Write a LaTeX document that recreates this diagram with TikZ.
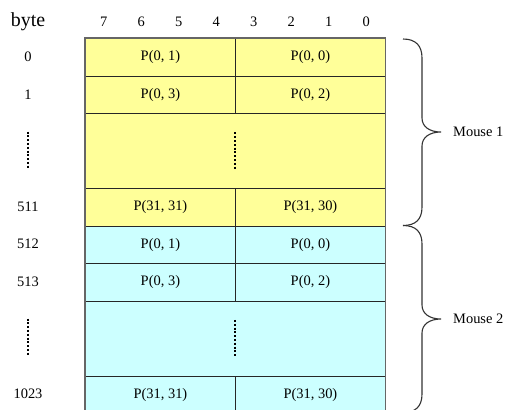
\documentclass[tikz,border=0pt]{standalone}
\usepackage{fontspec}
\setmainfont{Liberation Serif}
\definecolor{yellowfill}{RGB}{255,255,153}
\definecolor{cyanfill}{RGB}{204,255,255}
\begin{document}
\begin{tikzpicture}[x=1bp,y=-1bp,
  cell/.style={draw=black!85, line width=0.8bp, minimum width=150bp, minimum height=37.5bp,
    inner sep=0pt, anchor=north west, font=\fontsize{14.5}{16}\selectfont},
  wide/.style={cell, minimum width=300bp, minimum height=75bp},
  ylw/.style={fill=yellowfill},
  cyn/.style={fill=cyanfill},
  lbl/.style={font=\fontsize{14.5}{16}\selectfont, inner sep=0pt},
  vdots/.style={line width=2bp, dash pattern=on 2bp off 1.8bp},
  border/.style={draw=black!60, line width=1.3bp},
  brace/.style={draw=black!80, line width=1.1bp}
]
\useasboundingbox (0,0) rectangle (509,409);
\clip (0,0) rectangle (509,409);
% header
\node[font=\fontsize{20}{22}\selectfont, inner sep=0pt, anchor=base] (byte) at (28,26.5) {byte};
\foreach \b [count=\i from 0] in {7,6,5,4,3,2,1,0}
  \node[lbl, anchor=base] (bit\b) at (103.75+37.5*\i,26) {\b};
% Mouse 1 block
\node[cell,ylw] (r0l) at (85,38) {P(0, 1)};
\node[cell,ylw] (r0r) at (235,38) {P(0, 0)};
\node[cell,ylw] (r1l) at (85,75.5) {P(0, 3)};
\node[cell,ylw] (r1r) at (235,75.5) {P(0, 2)};
\node[wide,ylw] (r2) at (85,113) {};
\node[cell,ylw] (r3l) at (85,188) {P(31, 31)};
\node[cell,ylw] (r3r) at (235,188) {P(31, 30)};
% Mouse 2 block
\node[cell,cyn] (c0l) at (85,225.5) {P(0, 1)};
\node[cell,cyn] (c0r) at (235,225.5) {P(0, 0)};
\node[cell,cyn] (c1l) at (85,263) {P(0, 3)};
\node[cell,cyn] (c1r) at (235,263) {P(0, 2)};
\node[wide,cyn] (c2) at (85,300.5) {};
\node[cell,cyn] (c3l) at (85,375.5) {P(31, 31)};
\node[cell,cyn] (c3r) at (235,375.5) {P(31, 30)};
% outer border
\draw[border] (c3l.south west) -- (r0l.north west) -- (r0r.north east) -- (c3r.south east);
% dotted continuation marks
\draw[vdots] (r2.center) ++(0,-18.5) -- ++(0,37);
\draw[vdots] (c2.center) ++(0,-18.5) -- ++(0,37);
\draw[vdots] (28,131.5) -- (28,168.5);
\draw[vdots] (28,318.5) -- (28,355.5);
% byte numbers
\node[lbl] (n0) at (28,56.75) {0};
\node[lbl] (n1) at (28,94.25) {1};
\node[lbl] (n511) at (28,206.75) {511};
\node[lbl] (n512) at (28,244.25) {512};
\node[lbl] (n513) at (28,281.75) {513};
\node[lbl] (n1023) at (28,394.25) {1023};
% braces
\draw[brace] (403,39) .. controls (416,39) and (422,46) .. (422,58) -- (422,118)
  .. controls (422,127) and (430,132) .. (441,132)
  .. controls (430,132) and (422,137) .. (422,146) -- (422,207)
  .. controls (422,219) and (416,225.5) .. (403,225.5);
\draw[brace] (403,225.5) .. controls (416,225.5) and (422,232) .. (422,244) -- (422,305)
  .. controls (422,314) and (430,319) .. (441,319)
  .. controls (430,319) and (422,324) .. (422,333) -- (422,394)
  .. controls (422,406) and (416,412.5) .. (403,412.5);
\node[lbl, anchor=west] (m1) at (453,132) {Mouse 1};
\node[lbl, anchor=west] (m2) at (453,319) {Mouse 2};
\end{tikzpicture}
\end{document}
